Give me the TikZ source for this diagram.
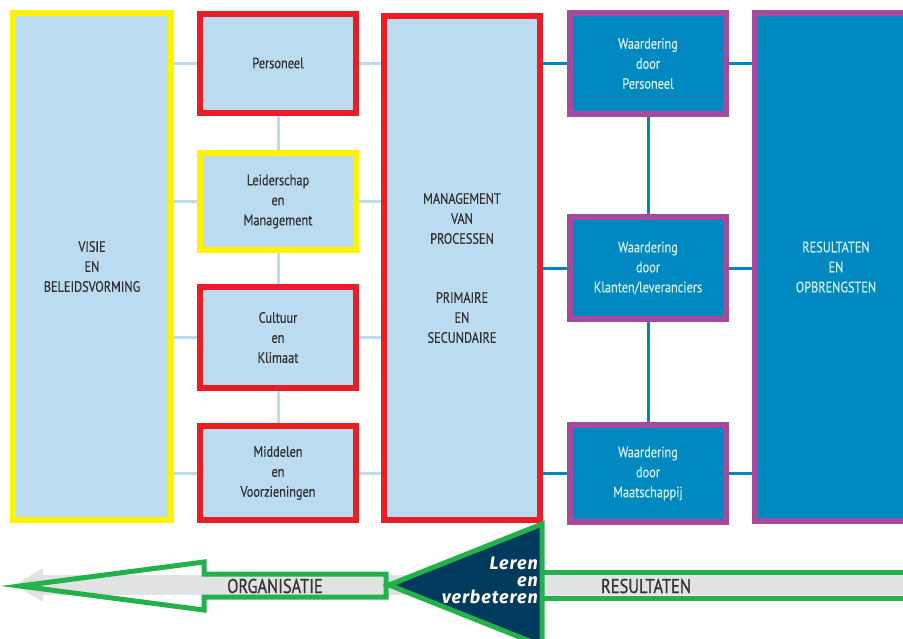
\documentclass[tikz,border=0pt]{standalone}
\usepackage{fontspec}
\setmainfont{PT Sans}[FakeStretch=0.82, FakeBold=0.6]
\newfontfamily\lerenfont{Fira Sans}[LetterSpace=5]
\usetikzlibrary{positioning}

\definecolor{boxlight}{HTML}{BBDBF1}
\definecolor{boxdark}{HTML}{0089C1}
\definecolor{rimred}{HTML}{ED1C24}
\definecolor{rimyellow}{HTML}{FFF200}
\definecolor{rimpurple}{HTML}{A54A9E}
\definecolor{rimgreen}{HTML}{22B24C}
\definecolor{navy}{HTML}{003A5C}
\definecolor{bandgrey}{HTML}{E1E2E2}
\definecolor{txtdark}{HTML}{333333}
\definecolor{txtlight}{HTML}{D4EDF8}

\tikzset{
  box/.style={draw, line width=6pt, inner sep=0pt, align=center,
    font=\fontsize{15}{20}\selectfont},
  lightbox/.style={box, fill=boxlight, text=txtdark},
  darkbox/.style={box, fill=boxdark, text=txtlight, draw=rimpurple},
  smallbox/.style={minimum width=156pt},
  lightlink/.style={draw=boxlight, line width=3pt},
  darklink/.style={draw=boxdark, line width=3pt},
  greenrim/.style={draw=rimgreen, line width=5pt, line join=miter},
  bandlabel/.style={text=txtdark, font=\fontsize{20}{20}\selectfont},
}

\begin{document}
\begin{tikzpicture}[x=1pt, y=-1pt]
    \path[use as bounding box, clip] (0,0) rectangle (903,638);

    % left half
    \node[lightbox, draw=rimyellow, minimum width=158pt, minimum height=507pt] (visie) at (92,266.5) {VISIE\\EN\\BELEIDSVORMING};
    \node[lightbox, smallbox, draw=rimred, minimum height=99pt] (pers) at (278,63) {Personeel};
    \node[lightbox, smallbox, draw=rimyellow, minimum height=97pt] (leid) at (278,201.5) {Leiderschap\\en\\Management};
    \node[lightbox, smallbox, draw=rimred, minimum height=101pt] (cult) at (278,337.5) {Cultuur\\en\\Klimaat};
    \node[lightbox, smallbox, draw=rimred, minimum height=94pt] (midd) at (278,473) {Middelen\\en\\Voorzieningen};
    \node[lightbox, draw=rimred, minimum width=156pt, minimum height=504pt] (mgmt) at (462,268) {MANAGEMENT\\VAN\\PROCESSEN\\[39pt]PRIMAIRE\\EN\\SECUNDAIRE};

    % right half
    \node[darkbox, smallbox, minimum height=101pt] (wpers) at (648,63.5) {Waardering\\door\\Personeel};
    \node[darkbox, smallbox, minimum height=102pt] (wklant) at (648,268) {Waardering\\door\\Klanten/leveranciers};
    \node[darkbox, smallbox, minimum height=97pt] (wmaat) at (648,473.5) {Waardering\\door\\Maatschappij};
    \node[darkbox, minimum width=162pt, minimum height=508pt] (res) at (836,267) {RESULTATEN\\EN\\OPBRENGSTEN};

    % links
    \foreach \b in {pers,leid,cult,midd} {
        \draw[lightlink] (visie.east |- \b) -- (\b.west);
        \draw[lightlink] (\b.east) -- (mgmt.west |- \b);
    }
    \draw[lightlink] (pers.south) -- (leid.north);
    \draw[lightlink] (leid.south) -- (cult.north);
    \draw[lightlink] (cult.south) -- (midd.north);
    \foreach \b in {wpers,wklant,wmaat} {
        \draw[darklink] (mgmt.east |- \b) -- (\b.west);
        \draw[darklink] (\b.east) -- (res.west |- \b);
    }
    \draw[darklink] (wpers.south) -- (wklant.north);
    \draw[darklink] (wklant.south) -- (wmaat.north);

    % grey band with head
    \fill[bandgrey] (43,575) rectangle (903,595);
    \fill[bandgrey] (15,585) -- (43,568) -- (43,602) -- cycle;

    % hollow arrow to the left
    \draw[greenrim] (386,574) -- (204,574) -- (204,562) -- (20,586)
        -- (204,610) -- (204,597) -- (386,597) -- cycle;

    % triangle and shaft on the right
    \draw[greenrim] (542,598) -- (910,598);
    \draw[greenrim] (542,572) -- (910,572);
    \draw[greenrim, fill=navy] (542,524) -- (389,585) -- (542,646) -- cycle;

    \node[bandlabel] (orga) at (275,586) {ORGANISATIE};
    \node[bandlabel] (resul) at (646,586) {RESULTATEN};
    \node[text=white, align=right, anchor=east, inner sep=0pt,
        font=\lerenfont\bfseries\itshape\fontsize{18}{17}\selectfont] (leren) at (538,580) {Leren\\en\\verbeteren};
\end{tikzpicture}
\end{document}
